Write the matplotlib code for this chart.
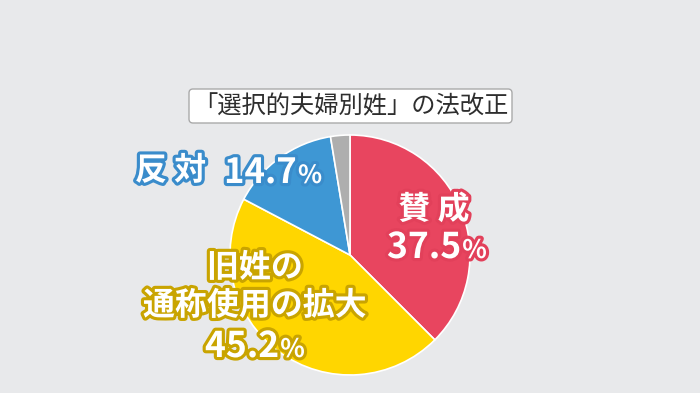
import matplotlib.pyplot as plt
import matplotlib.patheffects as pe
from matplotlib.patches import FancyBboxPatch

plt.rcParams['font.family'] = ['Noto Sans CJK JP', 'DejaVu Sans']

title = "「選択的夫婦別姓」の法改正"
labels = ["賛成", "旧姓の通称使用の拡大", "反対", "その他"]
values = [37.5, 45.2, 14.7, 2.6]
colors = ["#E8455F", "#FFD600", "#3E97D4", "#AEAEAE"]
strokes = ["#E2405A", "#C9A400", "#3A8CCB", "#999999"]

bg = "#E8E9EB"
fig = plt.figure(figsize=(7, 3.93), dpi=100, facecolor=bg)
ax = fig.add_axes([0, 0, 1, 1])
ax.set_facecolor(bg)

ax.pie(values, colors=colors, startangle=90, counterclock=False,
       center=(350, 138), radius=120, frame=True,
       wedgeprops=dict(edgecolor='white', linewidth=1.2))
ax.set_xlim(0, 700)
ax.set_ylim(0, 393)
ax.set_aspect('equal')
ax.axis('off')

# title box
box = FancyBboxPatch((189, 270), 323, 34, boxstyle="round,pad=0,rounding_size=4",
                     facecolor='white', edgecolor='#AAAAAA', linewidth=1)
ax.add_patch(box)
ax.text(351, 287, title, fontsize=17.5, color='#2E2E2E', ha='center', va='center')


def label(x, y, s, stroke, size, ha='center'):
    ax.text(x, y, s, fontsize=size, color='white', fontweight='bold',
            ha=ha, va='center',
            path_effects=[pe.withStroke(linewidth=4.5, foreground=stroke)])


def pct(x, y, v, stroke, size):
    t = ax.text(x, y, f"{v}", fontsize=size, color='white', fontweight='bold',
                ha='left', va='baseline',
                path_effects=[pe.withStroke(linewidth=4.5, foreground=stroke)])
    fig.canvas.draw()
    bb = t.get_window_extent().transformed(ax.transData.inverted())
    ax.text(bb.x1 + 1, y, "%", fontsize=size * 0.72, color='white', fontweight='bold',
            ha='left', va='baseline',
            path_effects=[pe.withStroke(linewidth=4.5, foreground=stroke)])


# 反対
label(135, 222, " ".join(labels[2]), strokes[2], 23, ha='left')
pct(224, 210, values[2], strokes[2], 25)

# 賛成
label(434, 183, " ".join(labels[0]), strokes[0], 23)
pct(387, 135, values[0], strokes[0], 25.5)

# 旧姓の通称使用の拡大
label(255, 125, labels[1][:3], strokes[1], 23)
label(255, 87, labels[1][3:], strokes[1], 23)
pct(205, 36, values[1], strokes[1], 25.5)

fig.savefig("out.png", dpi=100, facecolor=bg)
